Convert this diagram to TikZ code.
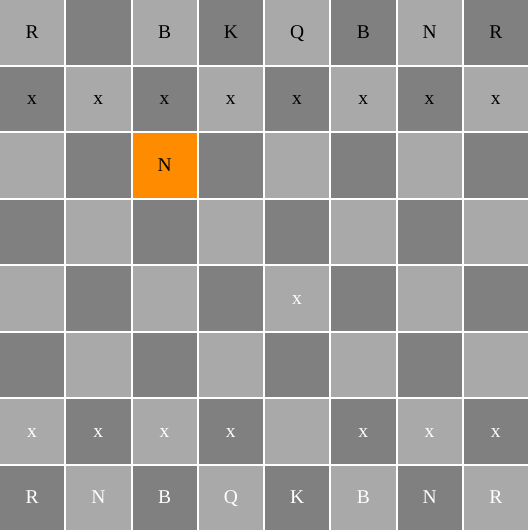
\documentclass[tikz,border=0pt]{standalone}
\usepackage{fontspec}
\setmainfont{Liberation Serif}
\definecolor{lightsq}{HTML}{A9A9A9}
\definecolor{darksq}{HTML}{808080}
\definecolor{hilite}{HTML}{FF8C00}
\tikzset{
	piece/.style={font=\fontsize{19.5}{20}\selectfont, inner sep=0pt, anchor=base},
	blackpiece/.style={piece, text=black},
	whitepiece/.style={piece, text=white}
}
\begin{document}
\begin{tikzpicture}[x=1pt, y=-1pt]
	\fill[white] (0,0) rectangle (528,530);
	
	% board squares
	\foreach \r in {0,...,7}
	\foreach \c in {0,...,7} {
		\pgfmathtruncatemacro{\p}{mod(\r+\c,2)}
		\ifnum\p=0 \def\sqcol{lightsq}\else\def\sqcol{darksq}\fi
		\fill[\sqcol] (\c*66.25, \r*66.5) rectangle ++(64.25,64.5);
		\coordinate (sq-\r-\c) at (\c*66.25+32.1, \r*66.5+38.3);
	}
	\fill[hilite] (2*66.25, 2*66.5) rectangle ++(64.25,64.5);
	
	% top pieces
	\foreach \c/\t in {0/R,2/B,3/K,4/Q,5/B,6/N,7/R}
		\node[blackpiece] (top-\c) at (sq-0-\c) {\t};
	\foreach \c in {0,...,7}
		\node[blackpiece] (toppawn-\c) at (sq-1-\c) {x};
	\node[blackpiece] (topknight) at (sq-2-2) {N};
	
	% bottom pieces
	\node[whitepiece] (midpawn) at (sq-4-4) {x};
	\foreach \c in {0,1,2,3,5,6,7}
		\node[whitepiece] (botpawn-\c) at (sq-6-\c) {x};
	\foreach \c/\t in {0/R,1/N,2/B,3/Q,4/K,5/B,6/N,7/R}
		\node[whitepiece] (bot-\c) at (sq-7-\c) {\t};
\end{tikzpicture}
\end{document}
